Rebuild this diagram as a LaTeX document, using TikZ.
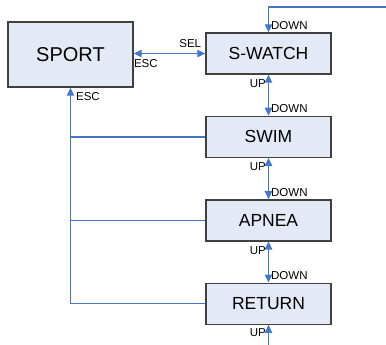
\documentclass[tikz,border=0pt]{standalone}
\usepackage{fontspec}
\setmainfont{Liberation Sans}
\usetikzlibrary{arrows.meta,positioning}

\definecolor{boxfill}{HTML}{E4EAF5}
\definecolor{boxline}{HTML}{404040}
\definecolor{linkblue}{HTML}{4677C6}

\begin{document}
\begin{tikzpicture}[
    x=1pt, y=-1pt,
    node distance=41pt,
    state/.style={rectangle, draw=boxline, line width=1.4pt, fill=boxfill, minimum width=125pt, minimum height=41pt, align=center, font=\fontsize{17.5}{20}\selectfont},
    bigstate/.style={state, minimum height=65pt, font=\fontsize{20}{24}\selectfont},
    arrow/.style={-{Triangle[length=8pt,width=7.5pt]}, draw=linkblue, line width=1.3pt},
    biarrow/.style={arrow, {Triangle[length=8pt,width=7.5pt]}-{Triangle[length=8pt,width=7.5pt]}},
    link/.style={draw=linkblue, line width=1.3pt},
    lbl/.style={font=\fontsize{11.5}{13}\selectfont, inner sep=2pt, text=black}
]
\useasboundingbox (0,0) rectangle (386,345);

% States
\node[bigstate] (sport) at (70.5,54.5) {SPORT};
\node[state] (swatch) at (268.5,53.5) {S-WATCH};
\node[state, below=of swatch] (swim) {SWIM};
\node[state, below=of swim] (apnea) {APNEA};
\node[state, below=of apnea] (return) {RETURN};

% Free ends
\coordinate (topin) at (386,7);
\coordinate (botin) at (268.5,345);

% SPORT <-> S-WATCH
\draw[biarrow] (sport.east |- swatch.west) -- node[lbl, pos=0.79, above=3pt] {SEL} node[lbl, pos=0.17, below=3pt] {ESC} (swatch.west);

% Column arrows
\draw[arrow] (topin) -| node[lbl, pos=0.86, right] {DOWN} (swatch.north);
\draw[biarrow] (swatch.south) -- node[lbl, pos=0.21, left] {UP} node[lbl, pos=0.83, right] {DOWN} (swim.north);
\draw[biarrow] (swim.south) -- node[lbl, pos=0.21, left] {UP} node[lbl, pos=0.83, right] {DOWN} (apnea.north);
\draw[biarrow] (apnea.south) -- node[lbl, pos=0.21, left] {UP} node[lbl, pos=0.83, right] {DOWN} (return.north);
\draw[arrow] (botin) -- node[lbl, pos=0.62, left] {UP} (return.south);

% ESC back to SPORT
\draw[arrow] (return.west) -| node[lbl, pos=0.98, right=3pt] {ESC} (sport.south);
\draw[link] (swim.west) -- (swim.west -| sport.south);
\draw[link] (apnea.west) -- (apnea.west -| sport.south);

\end{tikzpicture}
\end{document}
